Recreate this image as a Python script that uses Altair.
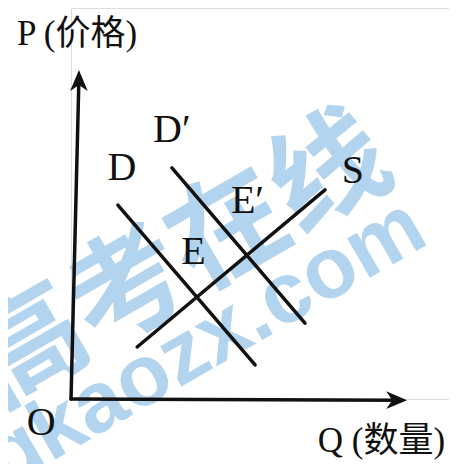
import altair as alt
import pandas as pd

# ---- data (chart units: Q 0-100 across, P 0-100 up) ----
series = ["Qaxis", "Qaxis", "Paxis", "Paxis", "D", "D", "D2", "D2", "S", "S"]
q_vals = [0.0, 87.0, 0.0, 2.1, 12.4, 48.7, 26.7, 61.9, 17.5, 67.2]
p_vals = [0.0, -0.3, 0.0, 82.1, 49.6, 8.7, 59.1, 19.4, 13.3, 53.5]
order = [0, 1, 0, 1, 0, 1, 0, 1, 0, 1]

arrow_q = [2.1, 86.0]
arrow_p = [81.3, -0.3]
arrow_angle = [0, 90]

curve_labels = ["D", "D′", "S", "E", "E′", "O"]
curve_label_q = [13.5, 21.7, 74.6, 32.4, 42.3, -7.9]
curve_label_p = [59.1, 68.8, 58.3, 37.7, 50.6, -6.1]
curve_label_align = ["center", "left", "center", "center", "left", "center"]

axis_titles = ["P (价格)", "Q (数量)"]
axis_title_q = [-14.3, 65.3]
axis_title_p = [93.4, -10.8]

watermark = ["高考在线", "gkaozx.com"]
watermark_q = [28.8, 35.4]
watermark_p = [35.0, 14.3]
watermark_font = ["Noto Sans CJK SC", "Liberation Sans"]

lines_df = pd.DataFrame({"series": series, "q": q_vals, "p": p_vals, "order": order})
arrows_df = pd.DataFrame({"q": arrow_q, "p": arrow_p, "angle": arrow_angle})
lab_df = pd.DataFrame({"t": curve_labels, "q": curve_label_q, "p": curve_label_p,
                       "align": curve_label_align})
ax_df = pd.DataFrame({"t": axis_titles, "q": axis_title_q, "p": axis_title_p})
wm_df = pd.DataFrame({"t": watermark, "q": watermark_q, "p": watermark_p,
                      "font": watermark_font})

X = alt.X("q:Q", scale=alt.Scale(domain=[0, 100]), axis=None)
Y = alt.Y("p:Q", scale=alt.Scale(domain=[0, 100]), axis=None)

ink = "#111111"
blue = "#b3d4ee"

wm_cjk = alt.Chart(wm_df[wm_df["font"] == "Noto Sans CJK SC"]).mark_text(
    angle=330, font="Noto Sans CJK SC", fontWeight="bold", fontSize=116,
    color=blue, align="center", baseline="middle"
).encode(x=X, y=Y, text="t:N")

wm_lat = alt.Chart(wm_df[wm_df["font"] == "Liberation Sans"]).mark_text(
    angle=330, font="Liberation Sans", fontWeight="bold", fontSize=86,
    color=blue, align="center", baseline="middle"
).encode(x=X, y=Y, text="t:N")

lines = alt.Chart(lines_df).mark_line(
    color=ink, strokeWidth=3.5, strokeCap="round"
).encode(x=X, y=Y, detail="series:N", order="order:Q")

arrows = alt.Chart(arrows_df).mark_point(
    shape="M0,-1 L0.8,0.9 L0,0.35 L-0.8,0.9 Z", filled=True, size=484,
    color=ink, opacity=1, strokeWidth=1
).encode(x=X, y=Y, angle=alt.Angle("angle:Q", scale=None))

lab_center = alt.Chart(lab_df[lab_df["align"] == "center"]).mark_text(
    font="Liberation Serif", fontSize=40, color=ink, align="center", baseline="middle"
).encode(x=X, y=Y, text="t:N")

lab_left = alt.Chart(lab_df[lab_df["align"] == "left"]).mark_text(
    font="Liberation Serif", fontSize=40, color=ink, align="left", baseline="middle"
).encode(x=X, y=Y, text="t:N")

titles = alt.Chart(ax_df).mark_text(
    font="Liberation Serif, Noto Sans CJK SC", fontSize=35, color=ink,
    align="left", baseline="middle"
).encode(x=X, y=Y, text="t:N")

chart = alt.layer(wm_cjk, wm_lat, lines, arrows, lab_center, lab_left, titles).properties(
    width=378, height=391,
    autosize=alt.AutoSizeParams(type="none"),
    padding={"left": 63, "top": 0, "right": 0, "bottom": 65},
).configure_view(strokeWidth=0, strokeOpacity=0).configure(background="white")

chart.save("out.html", embed_options={"renderer": "svg", "actions": False})
